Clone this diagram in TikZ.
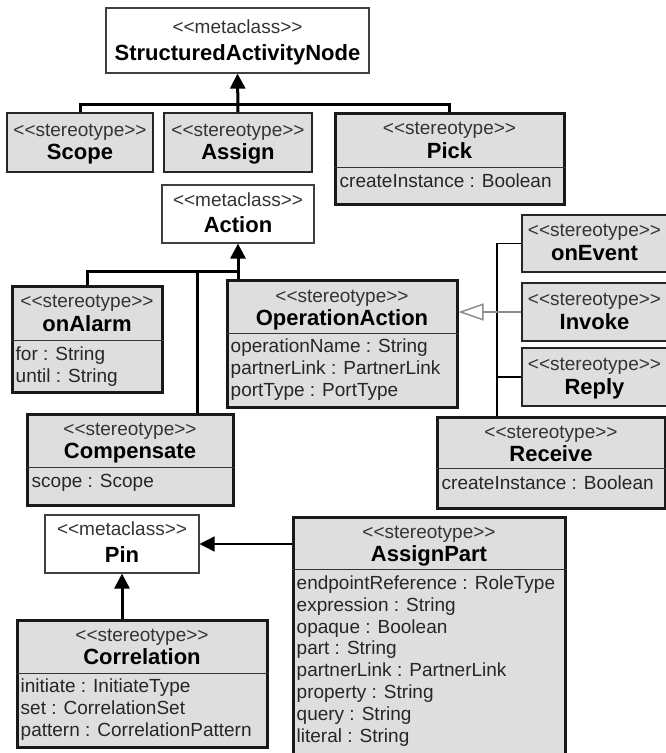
\documentclass[tikz,border=0pt]{standalone}
\usepackage{fontspec}
\setmainfont{Liberation Sans}
\usetikzlibrary{arrows.meta}
\definecolor{boxgray}{RGB}{222,222,222}
\newcommand{\stereo}[1]{<\kern0pt<#1>\kern0pt>}

\begin{document}
\begin{tikzpicture}[x=1pt, y=-1pt,
    meta/.style={draw=black!75, line width=1.2pt, fill=white, inner sep=0pt},
    thinbox/.style={draw=black!85, line width=1.6pt, fill=boxgray, inner sep=0pt},
    heavybox/.style={draw=black!90, line width=3pt, fill=boxgray, inner sep=0pt},
    tag/.style={anchor=base, inner sep=0pt, font=\fontsize{19}{22}\selectfont, text=black!80},
    title/.style={anchor=base, inner sep=0pt, font=\fontsize{22}{26}\selectfont\bfseries},
    attrs/.style={anchor=north west, inner sep=0pt, align=left, font=\fontsize{19}{21.8}\selectfont, text=black!85},
    divider/.style={line width=1.3pt, draw=black!80},
    bus/.style={line width=3pt},
    ext/.style={bus, -{Triangle[length=15pt, width=15pt]}},
    link/.style={line width=1.3pt},
    realize/.style={line width=1.5pt, draw=black!45, -{Triangle[open, length=25pt, width=17pt, fill=white]}}]
    \useasboundingbox (0,0) rectangle (666,753);

    % top row
    \node (san) at (237.5,40.5) [meta, minimum width=263pt, minimum height=65pt] {};
    \node (san-t) at ([yshift=-26pt]san.north) [tag] {\stereo{metaclass}};
    \node (san-n) at ([yshift=-53pt]san.north) [title] {StructuredActivityNode};

    \node (scope) at (80,142.5) [thinbox, minimum width=146pt, minimum height=59pt] {};
    \node (scope-t) at ([yshift=-24pt]scope.north) [tag] {\stereo{stereotype}};
    \node (scope-n) at ([yshift=-47pt]scope.north) [title] {Scope};

    \node (assign) at (238,142.5) [thinbox, minimum width=148pt, minimum height=59pt] {};
    \node (assign-t) at ([yshift=-24pt]assign.north) [tag] {\stereo{stereotype}};
    \node (assign-n) at ([yshift=-47pt]assign.north) [title] {Assign};

    \node (pick) at (449.5,158.5) [heavybox, minimum width=229pt, minimum height=91pt] {};
    \node (pick-t) at ([yshift=-23pt]pick.north) [tag] {\stereo{stereotype}};
    \node (pick-n) at ([yshift=-47pt]pick.north) [title] {Pick};
    \draw [divider] ([yshift=-56pt]pick.north west) -- ([yshift=-56pt]pick.north east);
    \node (pick-a) at ([xshift=6pt,yshift=-62pt]pick.north west) [attrs] {createInstance : Boolean};

    % Action and its stereotypes
    \node (action) at (238,214) [meta, minimum width=152pt, minimum height=58pt] {};
    \node (action-t) at ([yshift=-22pt]action.north) [tag] {\stereo{metaclass}};
    \node (action-n) at ([yshift=-48pt]action.north) [title] {Action};

    \node (onalarm) at (87,339) [heavybox, minimum width=150pt, minimum height=106pt] {};
    \node (onalarm-t) at ([yshift=-23pt]onalarm.north) [tag] {\stereo{stereotype}};
    \node (onalarm-n) at ([yshift=-47pt]onalarm.north) [title] {onAlarm};
    \draw [divider] ([yshift=-56pt]onalarm.north west) -- ([yshift=-56pt]onalarm.north east);
    \node (onalarm-a) at ([xshift=5pt,yshift=-62pt]onalarm.north west) [attrs] {for : String\\until : String};

    \node (opaction) at (342,343.5) [heavybox, minimum width=230pt, minimum height=127pt] {};
    \node (opaction-t) at ([yshift=-24pt]opaction.north) [tag] {\stereo{stereotype}};
    \node (opaction-n) at ([yshift=-47pt]opaction.north) [title] {OperationAction};
    \draw [divider] ([yshift=-55pt]opaction.north west) -- ([yshift=-55pt]opaction.north east);
    \node (opaction-a) at ([xshift=5pt,yshift=-60pt]opaction.north west) [attrs] {operationName : String\\partnerLink : PartnerLink\\portType : PortType};

    \node (compensate) at (130,459.5) [heavybox, minimum width=206pt, minimum height=91pt] {};
    \node (compensate-t) at ([yshift=-23pt]compensate.north) [tag] {\stereo{stereotype}};
    \node (compensate-n) at ([yshift=-46pt]compensate.north) [title] {Compensate};
    \draw [divider] ([yshift=-55pt]compensate.north west) -- ([yshift=-55pt]compensate.north east);
    \node (compensate-a) at ([xshift=6pt,yshift=-62pt]compensate.north west) [attrs] {scope : Scope};

    % right column
    \node (onevent) at (594.5,243.5) [thinbox, minimum width=145pt, minimum height=57pt] {};
    \node (onevent-t) at ([yshift=-22pt]onevent.north) [tag] {\stereo{stereotype}};
    \node (onevent-n) at ([yshift=-46pt]onevent.north) [title] {onEvent};

    \node (invoke) at (594.5,312) [thinbox, minimum width=145pt, minimum height=58pt] {};
    \node (invoke-t) at ([yshift=-23pt]invoke.north) [tag] {\stereo{stereotype}};
    \node (invoke-n) at ([yshift=-47pt]invoke.north) [title] {Invoke};

    \node (reply) at (594.5,377) [thinbox, minimum width=145pt, minimum height=58pt] {};
    \node (reply-t) at ([yshift=-23pt]reply.north) [tag] {\stereo{stereotype}};
    \node (reply-n) at ([yshift=-47pt]reply.north) [title] {Reply};

    \node (receive) at (551,462.5) [heavybox, minimum width=228pt, minimum height=91pt] {};
    \node (receive-t) at ([yshift=-23pt]receive.north) [tag] {\stereo{stereotype}};
    \node (receive-n) at ([yshift=-46pt]receive.north) [title] {Receive};
    \draw [divider] ([yshift=-53pt]receive.north west) -- ([yshift=-53pt]receive.north east);
    \node (receive-a) at ([xshift=6pt,yshift=-60pt]receive.north west) [attrs] {createInstance : Boolean};

    % Pin and its stereotypes
    \node (pin) at (122,544) [meta, minimum width=154pt, minimum height=58pt] {};
    \node (pin-t) at ([yshift=-21pt]pin.north) [tag] {\stereo{metaclass}};
    \node (pin-n) at ([yshift=-48pt]pin.north) [title] {Pin};

    \node (correlation) at (142,683.5) [heavybox, minimum width=250pt, minimum height=127pt] {};
    \node (correlation-t) at ([yshift=-23pt]correlation.north) [tag] {\stereo{stereotype}};
    \node (correlation-n) at ([yshift=-46pt]correlation.north) [title] {Correlation};
    \draw [divider] ([yshift=-55pt]correlation.north west) -- ([yshift=-55pt]correlation.north east);
    \node (correlation-a) at ([xshift=5pt,yshift=-60pt]correlation.north west) [attrs] {initiate : InitiateType\\set : CorrelationSet\\pattern : CorrelationPattern};

    \node (assignpart) at (429,637.5) [heavybox, minimum width=272pt, minimum height=241pt] {};
    \node (assignpart-t) at ([yshift=-23pt]assignpart.north) [tag] {\stereo{stereotype}};
    \node (assignpart-n) at ([yshift=-46pt]assignpart.north) [title] {AssignPart};
    \draw [divider] ([yshift=-54pt]assignpart.north west) -- ([yshift=-54pt]assignpart.north east);
    \node (assignpart-a) at ([xshift=5pt,yshift=-60pt]assignpart.north west) [attrs] {endpointReference : RoleType\\expression : String\\opaque : Boolean\\part : String\\partnerLink : PartnerLink\\property : String\\query : String\\literal : String};

    % extensions
    \coordinate (bus1) at (238,104);
    \draw [bus] (scope.north) |- (bus1) -| (pick.north);
    \draw [ext] (assign.north) -- (san.south);

    \coordinate (bus2) at (238,271);
    \coordinate (drop) at (197,271);
    \draw [bus] (onalarm.north) |- (bus2);
    \draw [bus] (drop) -- (drop |- compensate.north);
    \draw [ext] (opaction.north -| action.south) -- (action.south);

    \coordinate (trunk) at (497,0);
    \draw [link] (onevent.west) -| (trunk |- receive.north);
    \draw [link] (reply.west) -- (reply.west -| trunk);
    \draw [realize] (invoke.west) -- (invoke.west -| opaction.east);

    \draw [ext] (pin.south |- correlation.north) -- (pin.south);
    \draw [ext, line width=1.8pt] (pin.east -| assignpart.west) -- (pin.east);
\end{tikzpicture}
\end{document}
